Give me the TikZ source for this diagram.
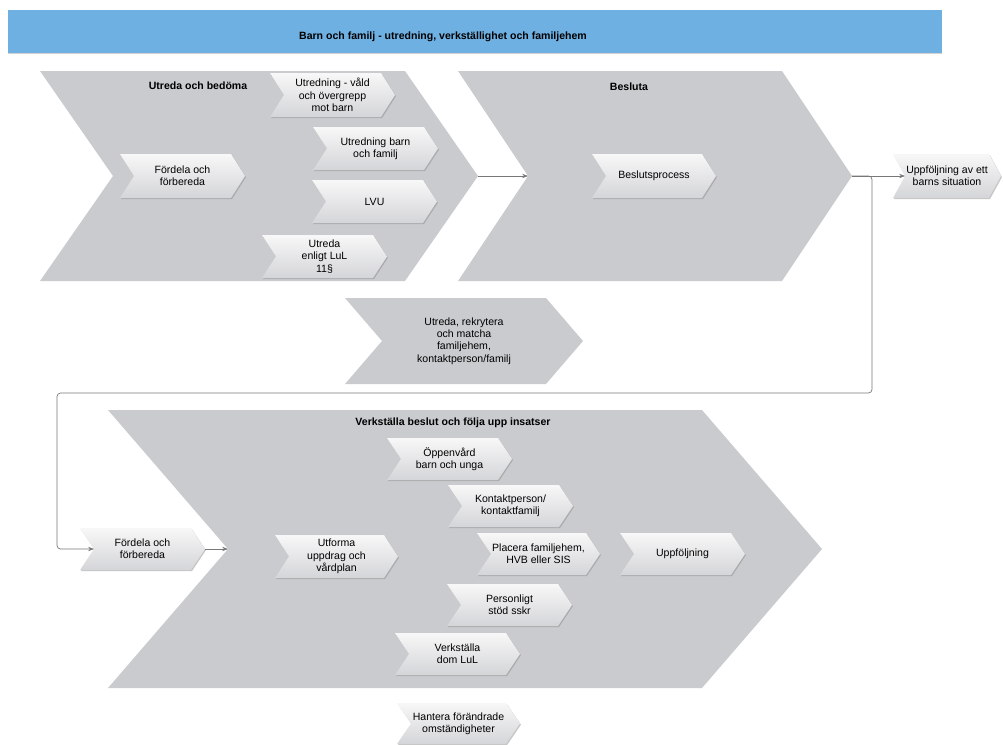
\documentclass[tikz,border=0pt]{standalone}
\usepackage{fontspec}
\setmainfont{Liberation Sans}
\usetikzlibrary{arrows.meta,calc,shadows}

\definecolor{bannerblue}{RGB}{111,176,226}
\definecolor{phasegray}{RGB}{201,203,206}
\definecolor{stepgray}{RGB}{212,213,216}
\definecolor{linegray}{RGB}{120,120,120}

\tikzset{>={Stealth[length=5pt]}}
\tikzset{
    banner/.style={fill=bannerblue,drop shadow={shadow xshift=0pt,shadow yshift=-1pt,fill=black!35}},
    phase/.style={fill=phasegray},
    stepbox/.style={top color=white!97!black,bottom color=stepgray,
        drop shadow={shadow xshift=0.8pt,shadow yshift=-1pt,fill=black!45}},
    boxtext/.style={align=center,font=\fontsize{9}{10.5}\selectfont,inner sep=0pt},
    title/.style={font=\fontsize{9}{10.5}\selectfont\bfseries,inner sep=0pt},
    flow/.style={draw=linegray,line width=0.6pt,->},
}

% #1 style, #2 name, #3 left, #4 top, #5 tip x, #6 bottom, #7 pointer depth, #8 text
\newcommand\chevron[8]{%
  \path[#1] (#3,#4) -- ({#5-#7},#4) -- (#5,{(#4+#6)/2}) -- ({#5-#7},#6)
     -- (#3,#6) -- ({#3+#7},{(#4+#6)/2}) -- cycle;
  \coordinate (#2-in) at ({#3+#7},{(#4+#6)/2});
  \coordinate (#2-out) at (#5,{(#4+#6)/2});
  \node[boxtext] (#2) at ({(#3+#5)/2},{(#4+#6)/2}) {#8};
}

\begin{document}
\begin{tikzpicture}[x=0.3mm,y=-0.3mm]
  \useasboundingbox (0,0) rectangle (1003,744);

  % heading
  \path[banner] (8,10) rectangle (942,53);
  \node[title] (heading) at (443,37) {Barn och familj - utredning, verkställighet och familjehem};

  % phases
  \chevron{phase}{utreda}{40}{71}{478}{281}{73}{}
  \chevron{phase}{besluta}{458}{71}{852}{281}{70}{}
  \chevron{phase}{matcha}{345}{298}{583}{384}{37}{Utreda, rekrytera\\och matcha\\familjehem,\\kontaktperson/familj}
  \chevron{phase}{verk}{108}{410}{822}{688}{120}{}

  \node[title] (utredatitle) at (198,86) {Utreda och bedöma};
  \node[title] (beslutatitle) at (629,87) {Besluta};
  \node[title] (verktitle) at (453,423) {Verkställa beslut och följa upp insatser};

  % steps, upper part
  \chevron{stepbox}{fordela}{120}{154}{245}{198}{14}{Fördela och\\förbereda}
  \chevron{stepbox}{vald}{270}{73}{395}{117}{14}{Utredning - våld\\och övergrepp\\mot barn}
  \chevron{stepbox}{barnfam}{313}{127}{438}{170}{14}{Utredning barn\\och familj}
  \chevron{stepbox}{lvu}{312}{180}{437}{223}{14}{LVU}
  \chevron{stepbox}{lul}{262}{235}{387}{278}{14}{Utreda\\enligt LuL\\11§}
  \chevron{stepbox}{beslut}{592}{154}{716}{198}{14}{Beslutsprocess}
  \chevron{stepbox}{barnsit}{893}{154}{1001}{198}{12}{Uppföljning av ett\\barns situation}

  % steps, lower part
  \chevron{stepbox}{fordelab}{80}{528}{205}{570}{14}{Fördela och\\förbereda}
  \chevron{stepbox}{oppen}{387}{438}{512}{480}{14}{Öppenvård\\barn och unga}
  \chevron{stepbox}{kontakt}{448}{485}{573}{527}{14}{Kontaktperson/\\kontaktfamilj}
  \chevron{stepbox}{utforma}{275}{535}{398}{578}{14}{Utforma\\uppdrag och\\vårdplan}
  \chevron{stepbox}{placera}{477}{533}{600}{575}{14}{Placera familjehem,\\HVB eller SIS}
  \chevron{stepbox}{uppfolj}{620}{533}{745}{575}{14}{Uppföljning}
  \chevron{stepbox}{personligt}{447}{584}{572}{626}{14}{Personligt\\stöd sskr}
  \chevron{stepbox}{verkdom}{395}{633}{520}{675}{14}{Verkställa\\dom LuL}
  \chevron{stepbox}{hantera}{397}{703}{520}{744}{14}{Hantera förändrade\\omständigheter}

  % connectors
  \coordinate (bend) at (57,393);
  \draw[flow] (utreda-out) -- (besluta-in);
  \draw[flow] (besluta-out) -- (barnsit-in);
  \draw[flow,rounded corners=3pt] (besluta-out) -- ++(20,0) |- (bend) |- (fordelab-in);
  \draw[flow] (fordelab-out) -- (verk-in);
\end{tikzpicture}
\end{document}
